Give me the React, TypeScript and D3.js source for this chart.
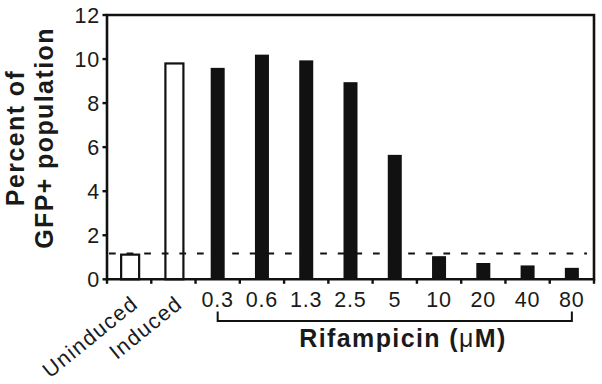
import React from "react";
import * as d3 from "d3";

const categories = ["Uninduced", "Induced", "0.3", "0.6", "1.3", "2.5", "5", "10", "20", "40", "80"];
const values = [1.12, 9.8, 9.6, 10.2, 9.94, 8.95, 5.65, 1.05, 0.74, 0.63, 0.52];
const openBars = ["Uninduced", "Induced"];
const rifampicinDoses = ["0.3", "0.6", "1.3", "2.5", "5", "10", "20", "40", "80"];
const yTicks = [0, 2, 4, 6, 8, 10, 12];
const baselineLevel = 1.17;

const W = 602;
const H = 384;
const left = 107;
const right = 594;
const top = 15;
const bottom = 279.3;
const FONT = "'Liberation Sans', Arial, Helvetica, sans-serif";

export default function App() {
  const x = d3.scaleBand<string>().domain(categories).range([left, right]).padding(0);
  const y = d3.scaleLinear().domain([0, 12]).range([bottom, top]);
  const bw = x.bandwidth();
  const boundaries = categories.map((c) => x(c)!).concat([right]);
  const cx = (c: string) => x(c)! + bw / 2;
  const bracketY = 321;
  const x0 = cx(rifampicinDoses[0]);
  const x1 = cx(rifampicinDoses[rifampicinDoses.length - 1]);

  return (
    <svg
      width={W}
      height={H}
      viewBox={`0 0 ${W} ${H}`}
      style={{ position: "absolute", left: 0, top: 0, background: "#fff" }}
    >
      <rect x={0} y={0} width={W} height={H} fill="#fff" />
      {/* bars */}
      {categories.map((c, i) => {
        const isOpen = openBars.includes(c);
        const v = values[i];
        if (isOpen) {
          const w = 18;
          return (
            <rect
              key={c}
              x={cx(c) - w / 2 + 1}
              y={y(v)}
              width={w}
              height={bottom - y(v)}
              fill="#fff"
              stroke="#111"
              strokeWidth={2.2}
            />
          );
        }
        const w = 14;
        return <rect key={c} x={cx(c) - w / 2} y={y(v)} width={w} height={bottom - y(v)} fill="#111" />;
      })}
      {/* dashed baseline */}
      <line
        x1={left + 1}
        x2={587}
        y1={y(baselineLevel)}
        y2={y(baselineLevel)}
        stroke="#111"
        strokeWidth={2}
        strokeDasharray="6.7,10.9"
        strokeDashoffset={-1}
      />
      {/* frame */}
      <path
        d={`M${left},${top} H${right} V${bottom} H${left} Z`}
        fill="none"
        stroke="#111"
        strokeWidth={2.6}
      />
      {/* y ticks */}
      {yTicks.map((t) => (
        <g key={t}>
          <line x1={left - 4.5} x2={left} y1={y(t)} y2={y(t)} stroke="#111" strokeWidth={2.4} />
          <text
            x={100}
            y={y(t)}
            dy="0.36em"
            textAnchor="end"
            fontFamily={FONT}
            fontSize={21.5}
            fill="#1a1a1a"
            letterSpacing={0.8}
          >
            {t}
          </text>
        </g>
      ))}
      {/* x ticks */}
      {boundaries.map((b, i) => (
        <line key={i} x1={b} x2={b} y1={bottom} y2={bottom + 4.5} stroke="#111" strokeWidth={2.4} />
      ))}
      {/* x labels */}
      {categories.map((c) => {
        if (openBars.includes(c)) {
          const ex = cx(c) + 10.5;
          const ey = 306;
          return (
            <text
              key={c}
              transform={`translate(${ex},${ey}) rotate(-39)`}
              textAnchor="end"
              fontFamily={FONT}
              fontSize={21.5}
              fill="#1a1a1a"
              letterSpacing={1.4}
            >
              {c}
            </text>
          );
        }
        return (
          <text
            key={c}
            x={cx(c)}
            y={306.7}
            textAnchor="middle"
            fontFamily={FONT}
            fontSize={21.5}
            fill="#1a1a1a"
            letterSpacing={0.8}
          >
            {c}
          </text>
        );
      })}
      {/* bracket */}
      <path
        d={`M${x0},${bracketY - 9.5} V${bracketY} H${x1} V${bracketY - 9.5}`}
        fill="none"
        stroke="#111"
        strokeWidth={2}
      />
      <text
        x={403}
        y={347}
        textAnchor="middle"
        fontFamily={FONT}
        fontSize={25}
        fontWeight="bold"
        fill="#1a1a1a"
        letterSpacing={1.4}
      >
        Rifampicin (<tspan fontWeight="normal">μ</tspan>M)
      </text>
      {/* y title */}
      <g transform="translate(24,138) rotate(-90)">
        <text
          x={0}
          y={0}
          textAnchor="middle"
          fontFamily={FONT}
          fontSize={25}
          fontWeight="bold"
          fill="#1a1a1a"
          letterSpacing={1.4}
        >
          Percent of
        </text>
        <text
          x={0}
          y={28.5}
          textAnchor="middle"
          fontFamily={FONT}
          fontSize={25}
          fontWeight="bold"
          fill="#1a1a1a"
          letterSpacing={1.4}
        >
          GFP+ population
        </text>
      </g>
    </svg>
  );
}
